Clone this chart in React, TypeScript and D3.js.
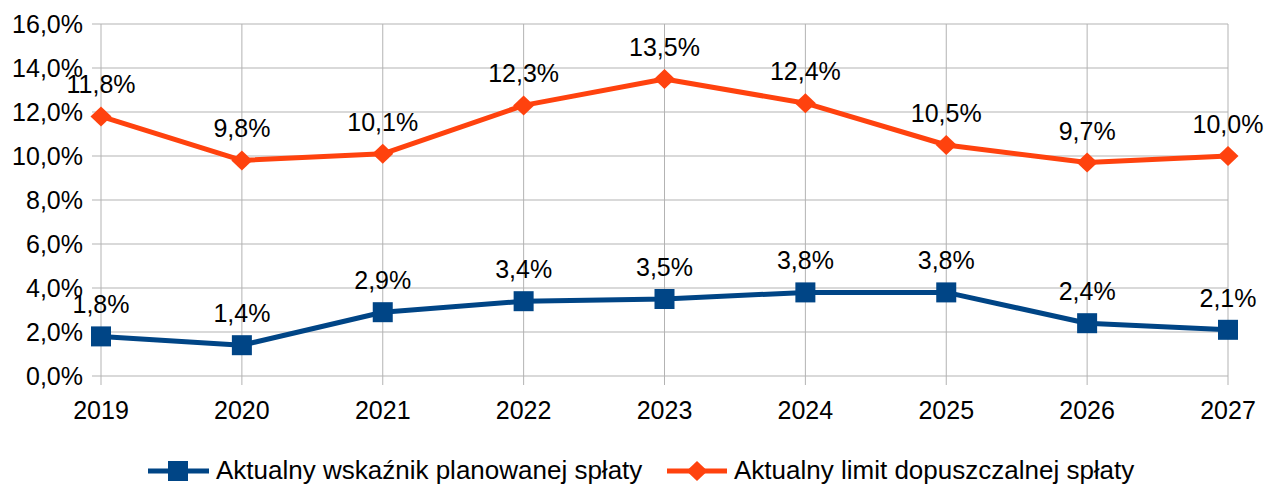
import React from "react";
import * as d3 from "d3";

const years = ["2019", "2020", "2021", "2022", "2023", "2024", "2025", "2026", "2027"];
const wskaznik = [1.8, 1.4, 2.9, 3.4, 3.5, 3.8, 3.8, 2.4, 2.1];
const limit = [11.8, 9.8, 10.1, 12.3, 13.5, 12.4, 10.5, 9.7, 10.0];
const yTicks = [0, 2, 4, 6, 8, 10, 12, 14, 16];
const seriesNames = ["Aktualny wskaźnik planowanej spłaty", "Aktualny limit dopuszczalnej spłaty"];

const W = 1266, H = 485;
const BLUE = "#004586", ORANGE = "#ff420e", GRID = "#b3b3b3";
const FONT = "'Liberation Sans', Arial, sans-serif";
const fmt = (v: number) => v.toFixed(1).replace(".", ",") + "%";

export default function App() {
  const x = d3.scalePoint<string>().domain(years).range([101, 1228]);
  const y = d3.scaleLinear().domain([0, 16]).range([376, 24]);
  const line = d3.line<number>().x((_, i) => x(years[i])!).y(d => y(d));

  const diamond = (cx: number, cy: number, rx = 10.5, ry = 10) =>
    `M${cx},${cy - ry}L${cx + rx},${cy}L${cx},${cy + ry}L${cx - rx},${cy}Z`;

  return (
    <svg width={W} height={H} style={{ position: "absolute", left: 0, top: 0 }} fontFamily={FONT}>
      <rect width={W} height={H} fill="#fff" />
      {yTicks.map(t => (
        <line key={"h" + t} x1={92} x2={1228} y1={y(t)} y2={y(t)} stroke={GRID} strokeWidth={1} />
      ))}
      {years.map(yr => (
        <line key={"v" + yr} x1={x(yr)} x2={x(yr)} y1={24} y2={385} stroke={GRID} strokeWidth={1} />
      ))}
      {yTicks.map(t => (
        <text key={"yl" + t} x={83} y={y(t) + 9} fontSize={25} textAnchor="end" fill="#000">{fmt(t)}</text>
      ))}
      {years.map(yr => (
        <text key={"xl" + yr} x={x(yr)} y={419} fontSize={25} textAnchor="middle" fill="#000">{yr}</text>
      ))}
      <path d={line(wskaznik)!} fill="none" stroke={BLUE} strokeWidth={5} strokeLinejoin="round" />
      <path d={line(limit)!} fill="none" stroke={ORANGE} strokeWidth={5} strokeLinejoin="round" />
      {wskaznik.map((v, i) => (
        <rect key={"s" + i} x={x(years[i])! - 10} y={y(v) - 10} width={20} height={20} fill={BLUE} />
      ))}
      {limit.map((v, i) => (
        <path key={"d" + i} d={diamond(x(years[i])!, y(v))} fill={ORANGE} />
      ))}
      {wskaznik.map((v, i) => (
        <text key={"wl" + i} x={x(years[i])} y={y(v) - 23} fontSize={25} textAnchor="middle" fill="#000">{fmt(v)}</text>
      ))}
      {limit.map((v, i) => (
        <text key={"ll" + i} x={x(years[i])} y={y(v) - 23} fontSize={25} textAnchor="middle" fill="#000">{fmt(v)}</text>
      ))}
      <g>
        <line x1={148} x2={209} y1={471} y2={471} stroke={BLUE} strokeWidth={5} />
        <rect x={168} y={461} width={20} height={20} fill={BLUE} />
        <text x={216} y={479} fontSize={26} fill="#000">{seriesNames[0]}</text>
        <line x1={667} x2={727} y1={471} y2={471} stroke={ORANGE} strokeWidth={5} />
        <path d={diamond(697, 471)} fill={ORANGE} />
        <text x={734} y={479} fontSize={26} fill="#000">{seriesNames[1]}</text>
      </g>
    </svg>
  );
}
